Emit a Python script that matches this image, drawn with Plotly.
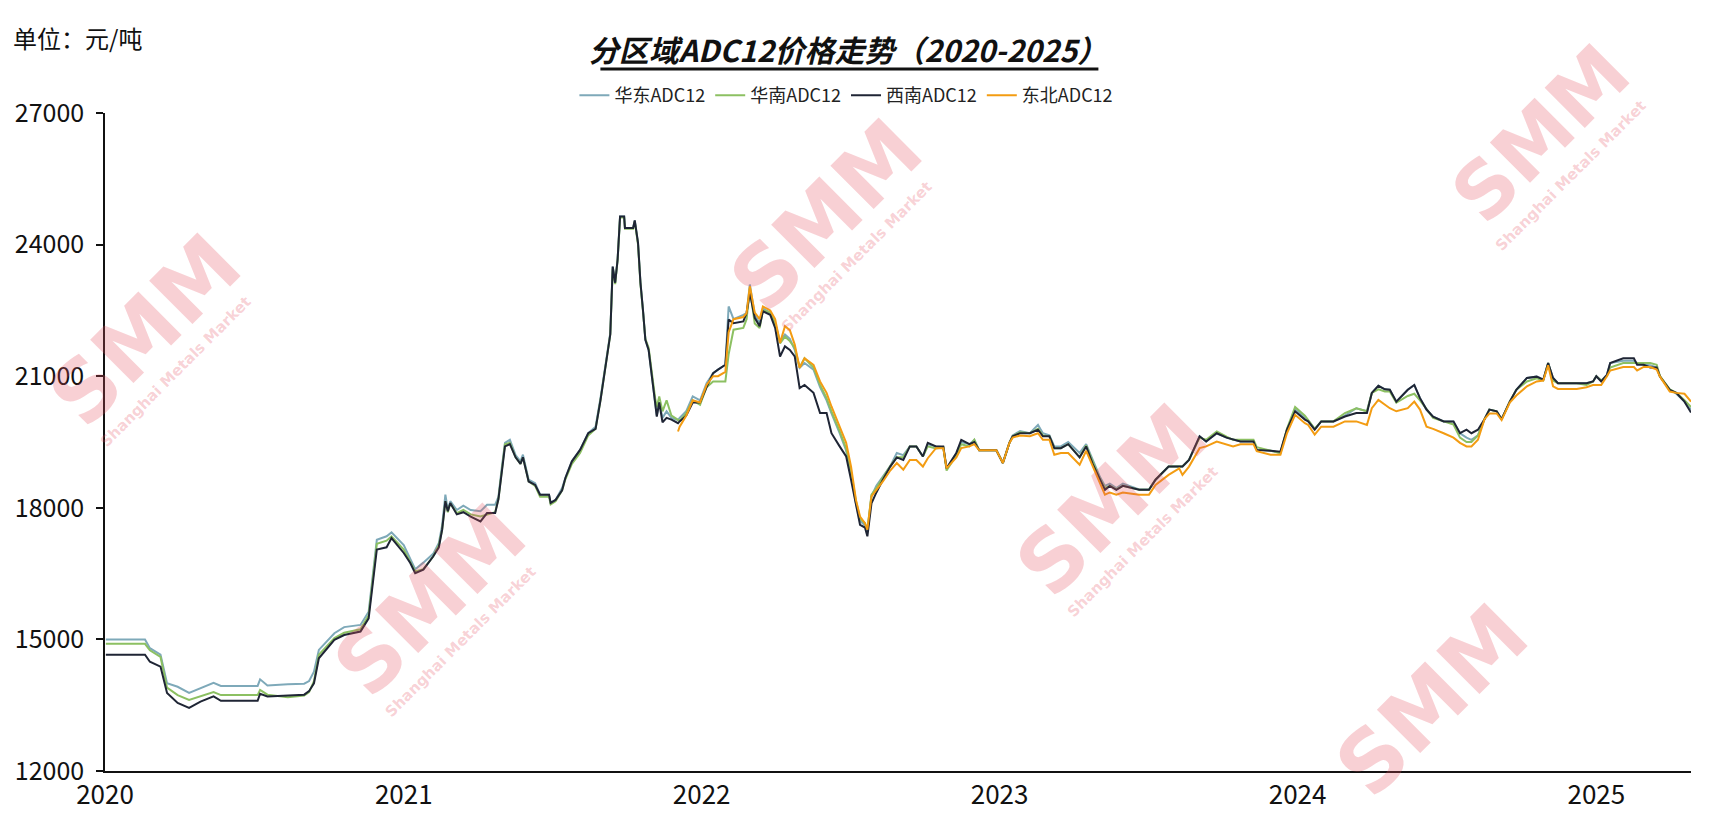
import plotly.graph_objects as go

# ---------------- data ----------------
dates = [
    "2020-01-02", "2020-02-19", "2020-02-25", "2020-03-09", "2020-03-17", "2020-03-30",
    "2020-04-13", "2020-04-27", "2020-05-13", "2020-05-22", "2020-07-06", "2020-07-09",
    "2020-07-18", "2020-08-12", "2020-09-01", "2020-09-07", "2020-09-13", "2020-09-19",
    "2020-10-08", "2020-10-20", "2020-11-09", "2020-11-19", "2020-11-25", "2020-11-29",
    "2020-12-11", "2020-12-17", "2021-01-01", "2021-01-09", "2021-01-15", "2021-01-25",
    "2021-02-06", "2021-02-13", "2021-02-17", "2021-02-21", "2021-02-24", "2021-02-27",
    "2021-03-07", "2021-03-15", "2021-03-24", "2021-04-05", "2021-04-13", "2021-04-23",
    "2021-04-27", "2021-05-01", "2021-05-05", "2021-05-11", "2021-05-18", "2021-05-24",
    "2021-05-27", "2021-06-03", "2021-06-11", "2021-06-17", "2021-06-28", "2021-06-30",
    "2021-07-06", "2021-07-14", "2021-07-18", "2021-07-26", "2021-08-05", "2021-08-15",
    "2021-08-24", "2021-08-30", "2021-09-05", "2021-09-11", "2021-09-14", "2021-09-17",
    "2021-09-20", "2021-09-23", "2021-09-28", "2021-09-29", "2021-10-09", "2021-10-11",
    "2021-10-15", "2021-10-18", "2021-10-21", "2021-10-24", "2021-10-28", "2021-11-01",
    "2021-11-05", "2021-11-07", "2021-11-10", "2021-11-14", "2021-11-19", "2021-11-25",
    "2021-12-03", "2021-12-05", "2021-12-13", "2021-12-21", "2021-12-30", "2022-01-07",
    "2022-01-15", "2022-01-21", "2022-01-30", "2022-02-03", "2022-02-09", "2022-02-21",
    "2022-02-25", "2022-03-01", "2022-03-07", "2022-03-13", "2022-03-17", "2022-03-26",
    "2022-04-01", "2022-04-07", "2022-04-13", "2022-04-19", "2022-04-25", "2022-05-01",
    "2022-05-07", "2022-05-18", "2022-05-26", "2022-06-03", "2022-06-09", "2022-06-19",
    "2022-06-27", "2022-07-03", "2022-07-09", "2022-07-14", "2022-07-20", "2022-07-23",
    "2022-07-28", "2022-08-03", "2022-08-11", "2022-08-20", "2022-08-28", "2022-09-05",
    "2022-09-13", "2022-09-21", "2022-09-29", "2022-10-05", "2022-10-15", "2022-10-24",
    "2022-10-28", "2022-11-09", "2022-11-15", "2022-11-25", "2022-12-01", "2022-12-07",
    "2022-12-28", "2023-01-05", "2023-01-13", "2023-01-17", "2023-01-26", "2023-02-07",
    "2023-02-17", "2023-02-23", "2023-03-03", "2023-03-09", "2023-03-17", "2023-03-26",
    "2023-04-09", "2023-04-17", "2023-04-25", "2023-05-04", "2023-05-10", "2023-05-16",
    "2023-05-24", "2023-06-01", "2023-06-21", "2023-07-03", "2023-07-11", "2023-07-27",
    "2023-08-09", "2023-08-13", "2023-08-21", "2023-09-03", "2023-09-11", "2023-09-24",
    "2023-10-06", "2023-10-14", "2023-10-23", "2023-11-08", "2023-11-12", "2023-11-29",
    "2023-12-11", "2023-12-19", "2023-12-29", "2024-01-10", "2024-01-14", "2024-01-22",
    "2024-01-30", "2024-02-14", "2024-02-28", "2024-03-13", "2024-03-26", "2024-04-01",
    "2024-04-09", "2024-04-17", "2024-04-23", "2024-05-01", "2024-05-15", "2024-05-23",
    "2024-05-30", "2024-06-07", "2024-06-15", "2024-06-28", "2024-07-10", "2024-07-18",
    "2024-07-26", "2024-08-01", "2024-08-09", "2024-08-17", "2024-08-23", "2024-09-01",
    "2024-09-07", "2024-09-17", "2024-09-25", "2024-10-08", "2024-10-20", "2024-10-28",
    "2024-11-03", "2024-11-09", "2024-11-15", "2024-12-08", "2024-12-20", "2024-12-28",
    "2025-01-01", "2025-01-07", "2025-01-14", "2025-01-18", "2025-02-03", "2025-02-16",
    "2025-02-20", "2025-02-28", "2025-03-08", "2025-03-16", "2025-03-20", "2025-04-01",
    "2025-04-09", "2025-04-19", "2025-04-27",
]

huadong = [
    15000, 15000, 14800, 14650, 14000, 13920, 13780, 13890, 14010, 13940, 13940, 14090,
    13950, 13980, 13990, 14050, 14265, 14760, 15140, 15280, 15330, 15630, 16700, 17270,
    17350, 17440, 17150, 16850, 16600, 16750, 16950, 17200, 17600, 18300, 17950, 18150,
    17950, 18050, 17950, 17920, 18070, 18070, 18250, 18900, 19480, 19550, 19200, 19060,
    19210, 18640, 18560, 18300, 18300, 18110, 18180, 18450, 18680, 19060, 19320, 19700,
    19850, 20500, 21300, 21980, 23500, 23130, 23660, 24640, 24640, 24380, 24380, 24550,
    24040, 23130, 22520, 21830, 21600, 20920, 20390, 20100, 20400, 20050, 20200, 20050,
    20000, 20050, 20200, 20540, 20450, 20840, 21070, 21150, 21260, 22590, 22300, 22400,
    22440, 23090, 22400, 22200, 22550, 22450, 22210, 21800, 21950, 21850, 21600, 21190,
    21300, 21150, 20750, 20450, 20150, 19700, 19300, 18750, 18100, 17700, 17600, 17450,
    18260, 18500, 18700, 18950, 19250, 19200, 19400, 19400, 19170, 19450, 19400, 19380,
    18900, 19250, 19500, 19450, 19550, 19310, 19310, 19020, 19480, 19650, 19750, 19700,
    19890, 19700, 19650, 19400, 19400, 19500, 19250, 19450, 19100, 18700, 18500, 18550,
    18450, 18550, 18420, 18420, 18640, 18940, 18940, 18940, 19090, 19630, 19510, 19700,
    19600, 19550, 19510, 19510, 19320, 19300, 19250, 19780, 20250, 20050, 19990, 19800,
    19970, 19970, 20100, 20270, 20200, 20620, 20780, 20700, 20690, 20420, 20690, 20800,
    20500, 20240, 20080, 19970, 19970, 19700, 19600, 19550, 19650, 20020, 20240, 20200,
    20020, 20420, 20690, 20960, 20990, 20920, 21300, 20960, 20840, 20840, 20840, 20880,
    21000, 20900, 21030, 21300, 21350, 21350, 21300, 21260, 21250, 21200, 20990, 20690,
    20600, 20420, 20240,
]

huanan = [
    14900, 14900, 14750, 14600, 13900, 13730, 13620, 13700, 13800, 13730, 13730, 13850,
    13740, 13680, 13720, 13800, 14050, 14650, 15030, 15150, 15230, 15550, 16600, 17180,
    17250, 17350, 17050, 16780, 16550, 16600, 16890, 17150, 17500, 18150, 17900, 18100,
    17880, 17950, 17850, 17800, 17850, 17900, 18200, 18850, 19450, 19480, 19150, 19000,
    19150, 18600, 18500, 18250, 18250, 18080, 18150, 18400, 18650, 19000, 19250, 19650,
    19800, 20450, 21250, 21950, 23450, 23100, 23650, 24620, 24620, 24360, 24360, 24530,
    24000, 23100, 22500, 21850, 21650, 21000, 20500, 20300, 20540, 20200, 20450, 20100,
    20000, 19980, 20160, 20450, 20350, 20750, 20880, 20880, 20880, 21500, 22060, 22100,
    22300, 23000, 22200, 22100, 22500, 22450, 22200, 21750, 21900, 21800, 21650, 21200,
    21410, 21200, 20800, 20500, 20200, 19750, 19350, 18800, 18150, 17750, 17650, 17500,
    18300, 18450, 18700, 18950, 19150, 19150, 19400, 19400, 19170, 19400, 19350, 19380,
    18850, 19200, 19450, 19400, 19550, 19310, 19310, 19020, 19480, 19630, 19720, 19700,
    19800, 19650, 19630, 19360, 19360, 19450, 19150, 19420, 19050, 18650, 18450, 18500,
    18420, 18500, 18410, 18410, 18640, 18940, 18940, 18940, 19090, 19600, 19550, 19740,
    19620, 19550, 19550, 19550, 19380, 19300, 19250, 19800, 20300, 20100, 20000, 19800,
    19970, 19970, 20160, 20270, 20200, 20620, 20700, 20650, 20650, 20400, 20550, 20600,
    20450, 20240, 20050, 19970, 19900, 19600, 19500, 19500, 19650, 20020, 20240, 20200,
    20020, 20420, 20690, 20880, 20950, 20900, 21300, 20900, 20840, 20840, 20800, 20880,
    21000, 20900, 21000, 21200, 21300, 21300, 21300, 21300, 21300, 21260, 21000, 20700,
    20620, 20450, 20300,
]

xinan = [
    14650, 14650, 14490, 14380, 13780, 13550, 13440, 13580, 13700, 13600, 13600, 13760,
    13700, 13730, 13740, 13820, 14000, 14570, 14990, 15100, 15180, 15480, 16500, 17050,
    17100, 17310, 16970, 16740, 16510, 16590, 16890, 17100, 17500, 18150, 17920, 18110,
    17850, 17900, 17800, 17690, 17880, 17880, 18200, 18800, 19400, 19450, 19150, 19000,
    19150, 18600, 18520, 18300, 18300, 18110, 18180, 18400, 18680, 19060, 19320, 19700,
    19800, 20450, 21250, 21950, 23500, 23130, 23660, 24640, 24640, 24380, 24380, 24550,
    24040, 23130, 22520, 21830, 21600, 20920, 20390, 20080, 20400, 19950, 20050, 20010,
    19930, 19970, 20100, 20400, 20400, 20750, 21070, 21150, 21260, 22290, 22210, 22250,
    22440, 22900, 22330, 22140, 22480, 22400, 22100, 21450, 21680, 21600, 21450, 20730,
    20800, 20620, 20160, 20160, 19700, 19400, 19170, 18640, 18030, 17610, 17550, 17350,
    18100, 18350, 18640, 18940, 19150, 19090, 19400, 19400, 19170, 19480, 19400, 19400,
    18900, 19250, 19550, 19450, 19500, 19310, 19310, 19020, 19480, 19630, 19700, 19700,
    19780, 19630, 19630, 19360, 19360, 19450, 19150, 19400, 19000, 18640, 18410, 18500,
    18410, 18500, 18410, 18410, 18640, 18940, 18940, 18940, 19090, 19630, 19510, 19700,
    19600, 19550, 19510, 19510, 19320, 19300, 19280, 19780, 20200, 20010, 19970, 19780,
    19970, 19970, 20080, 20160, 20160, 20620, 20780, 20700, 20690, 20420, 20690, 20800,
    20500, 20240, 20080, 19970, 19970, 19700, 19780, 19700, 19780, 20020, 20240, 20200,
    20020, 20420, 20690, 20960, 20990, 20920, 21300, 20960, 20840, 20840, 20840, 20880,
    21000, 20880, 21030, 21300, 21410, 21410, 21260, 21260, 21200, 21200, 20990, 20690,
    20620, 20420, 20170,
]

_n_before_db = 84  # 东北 series starts in December 2021
dongbei = [None] * _n_before_db + [
    19740, 19850, 20100, 20450, 20400, 20800, 21000, 21000, 21100, 22000, 22300, 22350,
    22440, 23050, 22450, 22300, 22590, 22500, 22300, 21760, 22140, 22050, 21720, 21190,
    21410, 21260, 20880, 20620, 20310, 19850, 19480, 18940, 18180, 17800, 17650, 17500,
    18260, 18410, 18600, 18850, 19020, 18870, 19090, 19090, 18940, 19130, 19360, 19360,
    18900, 19150, 19360, 19400, 19450, 19310, 19310, 19020, 19480, 19600, 19650, 19630,
    19700, 19550, 19550, 19210, 19250, 19250, 18980, 19300, 18950, 18520, 18300, 18350,
    18300, 18350, 18300, 18300, 18520, 18750, 18900, 18750, 18940, 19360, 19400, 19510,
    19450, 19400, 19450, 19450, 19290, 19210, 19210, 19700, 20120, 19930, 19890, 19670,
    19850, 19850, 19970, 19970, 19890, 20270, 20460, 20350, 20270, 20200, 20270, 20420,
    20240, 19850, 19800, 19700, 19600, 19480, 19400, 19400, 19550, 20020, 20150, 20150,
    20000, 20400, 20560, 20770, 20880, 20900, 21250, 20770, 20710, 20710, 20750, 20800,
    20800, 20800, 21000, 21130, 21210, 21210, 21130, 21210, 21210, 21150, 20990, 20650,
    20620, 20600, 20420,
]

series_names = ["华东ADC12", "华南ADC12", "西南ADC12", "东北ADC12"]
series_values = [huadong, huanan, xinan, dongbei]
series_colors = ["#7ea9b9", "#8cc062", "#1f2535", "#f39c12"]

y_ticks = [12000, 15000, 18000, 21000, 24000, 27000]

title_text = "分区域ADC12价格走势（2020-2025）"
unit_text = "单位：元/吨"
wm_main = "SMM"
wm_sub = "Shanghai Metals Market"

FONT = "Noto Sans CJK SC"

# ---------------- geometry (page pixels; page body has an 8px margin) ----------------
OFF = 8
W, H = 1727 - 2 * OFF, 815 - OFF
PL, PR, PT, PB = 104.6, 1690.6, 113.4, 771.0      # plot area in page pixels
ML, MR, MT, MB = PL - OFF, W - (PR - OFF), PT - OFF, H - (PB - OFF)
PW, PH = PR - PL, PB - PT


def px(xp):
    return (xp - PL) / PW


def py(yp):
    return (PB - yp) / PH


# ---------------- figure ----------------
fig = go.Figure()

for name, vals, color in zip(series_names, series_values, series_colors):
    fig.add_trace(go.Scatter(
        x=dates, y=vals, name=name, mode="lines",
        line=dict(color=color, width=2),
        connectgaps=False,
    ))

# SMM watermarks (light pink, rotated) - page-pixel centres, font size, with tagline?
wm_pos = [
    (145, 330, 84, True), (430, 600, 84, True), (826, 215, 84, True),
    (1112, 500, 84, True), (1540, 134, 78, True), (1432, 700, 84, False),
]
WM_COLOR = "rgba(230,80,95,0.27)"
for (xp, yp, fs, tag) in wm_pos:
    fig.add_annotation(
        x=px(xp), y=py(yp), xref="paper", yref="paper", text="<b>" + wm_main + "</b>",
        showarrow=False, textangle=-45, xanchor="center", yanchor="middle",
        font=dict(family="DejaVu Sans", size=fs, color=WM_COLOR),
    )
    if tag:
        fig.add_annotation(
            x=px(xp + 30), y=py(yp + 42), xref="paper", yref="paper",
            text="<b>" + wm_sub + "</b>",
            showarrow=False, textangle=-45, xanchor="center", yanchor="middle",
            font=dict(family="DejaVu Sans", size=15, color=WM_COLOR),
        )

# unit label
fig.add_annotation(
    x=px(11), y=py(37.5), xref="paper", yref="paper", text=unit_text, showarrow=False,
    xanchor="left", yanchor="middle",
    font=dict(family=FONT, size=24, color="#111111"),
)

# title underline
fig.add_shape(
    type="line", xref="paper", yref="paper",
    x0=px(600), x1=px(1098), y0=py(69.5), y1=py(69.5),
    line=dict(color="#111111", width=3),
)

fig.update_layout(
    width=W, height=H,
    paper_bgcolor="white", plot_bgcolor="white",
    margin=dict(l=ML, r=MR, t=MT, b=MB, pad=0, autoexpand=False),
    font=dict(family=FONT, color="#111111"),
    title=dict(
        text="<b><i>" + title_text + "</i></b>",
        xref="container", yref="container",
        x=(848 - OFF) / W, xanchor="center",
        y=1 - (51.5 - OFF) / H, yanchor="middle",
        font=dict(family=FONT, size=30, color="#111111"),
    ),
    legend=dict(
        orientation="h", x=px(846), xanchor="center", y=py(96), yanchor="middle",
        font=dict(family=FONT, size=18, color="#222222"),
        itemwidth=30, tracegroupgap=0, bgcolor="rgba(0,0,0,0)",
    ),
    showlegend=True,
    hovermode=False,
)

fig.update_xaxes(
    type="date", range=["2020-01-01", "2025-04-27"],
    dtick="M12", tick0="2020-01-01", tickformat="%Y",
    showline=True, linecolor="#111111", linewidth=2,
    ticks="", showgrid=False, zeroline=False, automargin=False,
    tickfont=dict(family=FONT, size=26, color="#111111"),
)
fig.update_yaxes(
    range=[12000, 27000], tickvals=y_ticks, ticktext=[str(v) for v in y_ticks],
    showline=True, linecolor="#111111", linewidth=1.5,
    ticks="outside", ticklen=7, tickcolor="#111111", tickwidth=1.5,
    ticklabelstandoff=7,
    showgrid=False, zeroline=False, automargin=False,
    tickfont=dict(family=FONT, size=25, color="#111111"),
)

fig.write_html("out.html")
